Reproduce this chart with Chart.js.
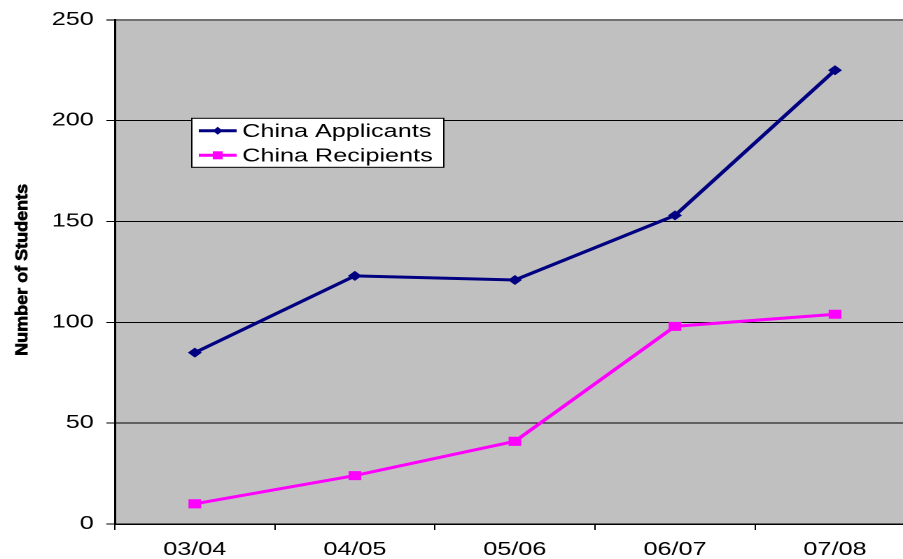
<!DOCTYPE html>
<html>
<head>
<meta charset="utf-8">
<script src="https://cdn.jsdelivr.net/npm/chart.js@4/dist/chart.umd.min.js"></script>
<style>
  html, body { margin: 0; padding: 0; background: #fff; overflow: hidden; width: 903px; height: 559px; }
  /* the reference is stretched sideways, so the whole chart is too */
  #wrap { width: 660px; height: 559px; transform: scaleX(1.4); transform-origin: 0 0; }
</style>
</head>
<body>
<div id="wrap"><canvas id="myChart"></canvas></div>
<script>
const years = ["03/04", "04/05", "05/06", "06/07", "07/08"];
const applicants = [85, 123, 121, 153, 225];
const recipients = [10, 24, 41, 98, 104];
const yTicks = [0, 50, 100, 150, 200, 250];
const seriesNames = ["China Applicants", "China Recipients"];
const yTitle = "Number of Students";

const FONT = '"Liberation Sans", Arial, sans-serif';

const plotBackground = {
  id: "plotBackground",
  beforeDraw(chart) {
    const { ctx, chartArea: a } = chart;
    ctx.save();
    ctx.fillStyle = "#c0c0c0";
    ctx.fillRect(a.left, a.top, a.right - a.left, a.bottom - a.top);
    ctx.restore();
  },
};

const axisTitle = {
  id: "axisTitle",
  afterDraw(chart) {
    const { ctx, chartArea: a } = chart;
    ctx.save();
    ctx.translate(19.6, (a.top + a.bottom) / 2 - 2);
    ctx.rotate(-Math.PI / 2);
    ctx.scale(1, 0.68);
    ctx.font = "bold 18px " + FONT;
    ctx.fillStyle = "#000";
    ctx.strokeStyle = "#000";
    ctx.lineWidth = 0.7;
    ctx.textAlign = "center";
    ctx.textBaseline = "alphabetic";
    ctx.fillText(yTitle, 0, 0);
    ctx.strokeText(yTitle, 0, 0);
    ctx.restore();
  },
};

const legendBox = {
  id: "legendBox",
  afterDraw(chart) {
    const { ctx, chartArea: a } = chart;
    const x = a.left + 55, y = a.top + 98.5, w = 180, h = 49;
    ctx.save();
    ctx.fillStyle = "#fff";
    ctx.fillRect(x, y, w, h);
    ctx.strokeStyle = "#000";
    ctx.lineWidth = 1;
    ctx.strokeRect(x, y, w, h);
    ctx.font = "18px " + FONT;
    ctx.textBaseline = "middle";
    chart.data.datasets.forEach((ds, i) => {
      const cy = y + 12.5 + i * 24.5;
      ctx.strokeStyle = ds.borderColor;
      ctx.lineWidth = 3;
      ctx.beginPath();
      ctx.moveTo(x + 5, cy);
      ctx.lineTo(x + 32, cy);
      ctx.stroke();
      ctx.fillStyle = ds.borderColor;
      const mx = x + 18.5;
      if (ds.pointStyle === "rect") {
        ctx.fillRect(mx - 3.5, cy - 4, 7, 8);
      } else {
        ctx.beginPath();
        ctx.moveTo(mx, cy - 4);
        ctx.lineTo(mx + 3.5, cy);
        ctx.lineTo(mx, cy + 4);
        ctx.lineTo(mx - 3.5, cy);
        ctx.closePath();
        ctx.fill();
      }
      ctx.fillStyle = "#000";
      ctx.fillText(ds.label, x + 36, cy + 1);
    });
    ctx.restore();
  },
};

const ctx = document.getElementById("myChart").getContext("2d");

new Chart(ctx, {
  type: "line",
  data: {
    labels: years,
    datasets: [
      {
        label: seriesNames[0],
        data: applicants,
        borderColor: "#000080",
        backgroundColor: "#000080",
        borderWidth: 3,
        pointStyle: "rectRot",
        pointRadius: 5,
        pointBorderWidth: 0,
        tension: 0,
      },
      {
        label: seriesNames[1],
        data: recipients,
        borderColor: "#ff00ff",
        backgroundColor: "#ff00ff",
        borderWidth: 3,
        pointStyle: "rect",
        pointRadius: 6.4,
        pointBorderWidth: 0,
        tension: 0,
      },
    ],
  },
  options: {
    responsive: true,
    maintainAspectRatio: false,
    animation: false,
    devicePixelRatio: 2,
    layout: { padding: { top: 18, left: 0, right: 6.4, bottom: 0 } },
    plugins: {
      legend: { display: false },
      tooltip: { enabled: false },
    },
    scales: {
      x: {
        offset: true,
        afterFit: (scale) => { scale.height = 35; },
        grid: {
          offset: true,
          drawOnChartArea: false,
          drawTicks: true,
          tickLength: 6,
          color: "#000",
        },
        border: { color: "#000", width: 1.5 },
        ticks: {
          color: "#000",
          padding: 9,
          maxRotation: 0,
          font: { family: FONT, size: 18 },
        },
      },
      y: {
        min: 0,
        max: 250,
        afterBuildTicks: (scale) => { scale.ticks = yTicks.map((v) => ({ value: v })); },
        afterFit: (scale) => { scale.width = 82; },
        grid: {
          color: (c) => (c.tick && c.tick.value === 250 ? "#707070" : "#000"),
          lineWidth: (c) => (c.tick && c.tick.value === 250 ? 2 : 1),
          tickLength: 6,
        },
        border: { color: "#000", width: 1.5 },
        ticks: {
          color: "#000",
          padding: 9,
          font: { family: FONT, size: 18 },
        },
      },
    },
  },
  plugins: [plotBackground, axisTitle, legendBox],
});
</script>
</body>
</html>
